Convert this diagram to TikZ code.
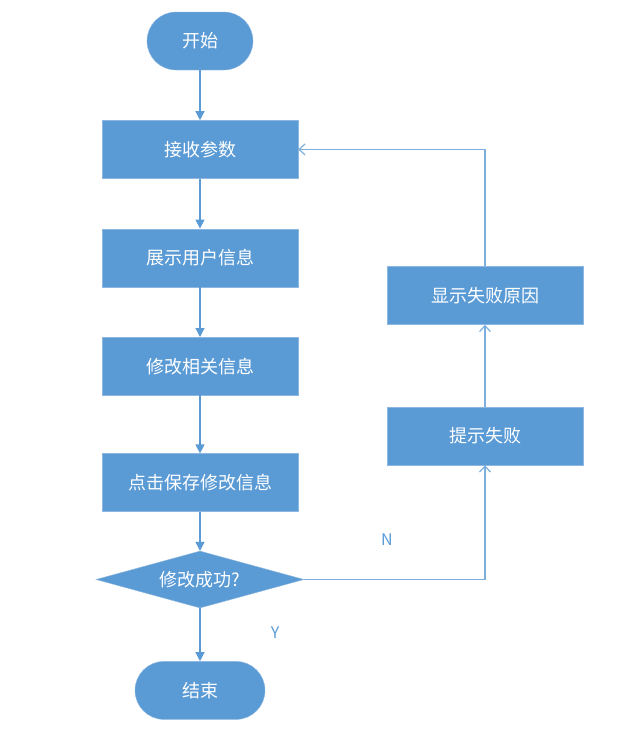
\documentclass[tikz,border=0pt]{standalone}
\usepackage{fontspec}
\setmainfont{Noto Sans CJK SC}
\usepackage{tikz}
\usetikzlibrary{arrows.meta,positioning,shapes.geometric,calc}
\usepackage{xcolor}
\definecolor{flowblue}{HTML}{5B9BD5}
\definecolor{edgeblue}{HTML}{8DB6E0}
\tikzset{
  stepbox/.style ={rectangle, draw=edgeblue, fill=flowblue, text=white,
                   align=center, font=\fontsize{18}{21}\selectfont,
                   minimum width=196pt, minimum height=58pt, inner sep=2pt},
  term/.style    ={stepbox, rounded corners=29pt, minimum width=106pt},
  dec/.style     ={diamond, draw=edgeblue, fill=flowblue, text=white,
                   font=\fontsize{18}{21}\selectfont, aspect=3.65, inner sep=0pt,
                   minimum width=208pt, minimum height=57pt},
  lbl/.style     ={text=flowblue, font=\fontsize{16}{18}\selectfont},
  flow/.style    ={-{Triangle[length=9pt,width=9pt]}, line width=1.2pt, draw=flowblue},
  back/.style    ={-{Straight Barb[length=6pt,width=11pt]}, line width=1.2pt, draw=flowblue!80!white},
}

\begin{document}
\begin{tikzpicture}[x=1pt, y=1pt, node distance=50pt]
  \useasboundingbox (0,0) rectangle (623,-739);
  \node[term]                         (start)  at (200,-41) {开始};
  \node[stepbox, below=of start]      (recv)   {接收参数};
  \node[stepbox, below=of recv]       (show)   {展示用户信息};
  \node[stepbox, below=of show]       (edit)   {修改相关信息};
  \node[stepbox, below=58pt of edit]  (save)   {点击保存修改信息};
  \node[dec, below=39pt of save]      (ok)     {修改成功?};
  \node[term, minimum width=130pt, below=53pt of ok] (stop) {结束};
  \node[stepbox]                      (fail)   at (485,-436) {提示失败};
  \node[stepbox, above=82pt of fail]  (reason) {显示失败原因};
  \node[lbl]                          (nlbl)   at (387,-540) {N};
  \node[lbl]                          (ylbl)   at (275,-633) {Y};
  \draw[flow] (start) -- (recv);
  \draw[flow] (recv) -- (show);
  \draw[flow] (show) -- (edit);
  \draw[flow] (edit) -- (save);
  \draw[flow] (save) -- (ok);
  \draw[flow] (ok) -- (stop);
  \draw[back] (ok.east) -| (fail.south);
  \draw[back] (fail) -- (reason);
  \draw[back] (reason.north) |- (recv.east);
\end{tikzpicture}
\end{document}
